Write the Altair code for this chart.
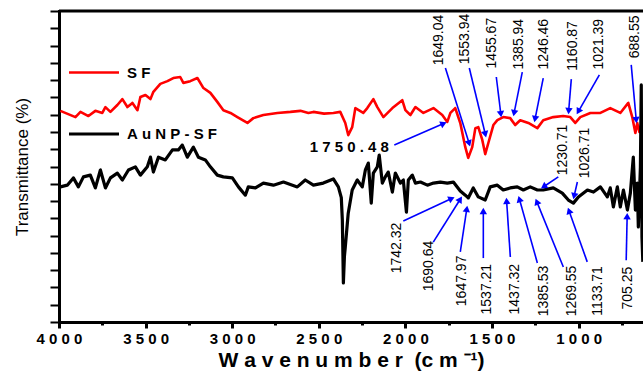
import math
import altair as alt
import pandas as pd

# ---------------- data ----------------
sf_wn = [3992, 3905, 3876, 3830, 3790, 3750, 3732, 3703, 3663, 3634, 3605, 3576, 3547, 3530,
         3501, 3472, 3455, 3415, 3374, 3340, 3300, 3282, 3242, 3201, 3166, 3126, 3086, 3051,
         3010, 2970, 2912, 2878, 2820, 2739, 2664, 2606, 2560, 2531, 2470, 2416, 2376, 2347,
         2330, 2307, 2289, 2243, 2220, 2185, 2162, 2127, 2075, 2018, 2000, 1971, 1942, 1896,
         1838, 1787, 1758, 1740, 1712, 1683, 1654, 1637, 1614, 1596, 1579, 1556, 1539, 1521,
         1492, 1469, 1435, 1395, 1366, 1337, 1290, 1238, 1204, 1146, 1089, 1048, 1019, 990,
         932, 874, 817, 759, 713, 690, 672, 661, 649, 632]
sf_t = [6.11, 5.93, 6.08, 5.96, 6.11, 6.05, 6.22, 6.08, 6.28, 6.45, 6.22, 6.34, 6.13, 6.51,
        6.57, 6.45, 6.66, 6.89, 6.97, 7.06, 7.09, 6.92, 6.97, 7.06, 6.77, 6.63, 6.37, 6.13,
        6.05, 5.93, 5.76, 5.90, 5.99, 6.05, 6.08, 6.11, 6.05, 6.08, 6.03, 6.05, 6.08, 5.76,
        5.41, 5.64, 6.19, 6.05, 6.19, 6.45, 6.22, 5.93, 6.19, 6.42, 6.13, 5.99, 6.22, 6.05,
        6.19, 5.99, 5.79, 6.05, 6.19, 5.76, 5.06, 4.75, 5.06, 5.61, 5.64, 5.27, 4.86, 5.18,
        5.70, 5.84, 5.93, 5.90, 5.70, 5.84, 5.76, 5.61, 5.84, 5.93, 5.96, 5.93, 5.76, 5.93,
        6.05, 6.05, 6.19, 6.05, 6.34, 5.93, 5.47, 5.76, 5.50, 5.84]

au_wn = [3992, 3952, 3917, 3888, 3859, 3819, 3790, 3761, 3732, 3703, 3663, 3634, 3599, 3559,
         3530, 3490, 3472, 3455, 3426, 3386, 3345, 3311, 3288, 3259, 3224, 3195, 3155, 3126,
         3086, 3051, 2999, 2964, 2924, 2907, 2866, 2820, 2762, 2704, 2624, 2578, 2531, 2474,
         2416, 2387, 2370, 2364, 2358, 2352, 2347, 2330, 2307, 2278, 2249, 2231, 2214, 2197,
         2185, 2162, 2151, 2133, 2116, 2099, 2075, 2058, 2029, 2012, 1994, 1983, 1960, 1942,
         1913, 1873, 1838, 1798, 1758, 1723, 1683, 1654, 1637, 1608, 1579, 1539, 1510, 1469,
         1435, 1395, 1354, 1319, 1279, 1238, 1204, 1146, 1094, 1059, 1030, 1001, 949, 914,
         874, 834, 817, 799, 776, 759, 741, 718, 701, 684, 672, 661, 655, 643, 638, 634, 629]
au_t = [3.91, 3.96, 4.17, 3.91, 4.20, 4.25, 3.88, 4.40, 3.88, 4.17, 4.31, 4.11, 4.40, 4.49,
        4.25, 4.49, 4.77, 4.34, 4.77, 4.69, 4.98, 4.98, 5.12, 4.77, 5.06, 4.77, 4.69, 4.49,
        4.25, 4.20, 4.17, 3.91, 3.67, 3.91, 3.88, 4.02, 3.96, 4.05, 3.91, 4.11, 3.96, 4.02,
        4.14, 3.91, 3.60, 2.95, 1.13, 1.90, 2.17, 3.15, 3.82, 4.11, 3.91, 4.40, 4.60, 3.44,
        4.31, 4.49, 4.83, 4.02, 4.20, 4.34, 3.76, 4.31, 4.02, 4.11, 3.18, 4.11, 4.25, 4.02,
        4.05, 3.96, 4.02, 4.05, 4.02, 4.05, 3.79, 3.67, 3.59, 3.88, 3.62, 3.53, 3.91, 3.96,
        3.82, 3.88, 3.91, 3.82, 3.91, 3.82, 3.82, 3.88, 3.73, 3.53, 3.44, 3.62, 3.82, 3.76,
        3.91, 3.62, 3.88, 3.33, 3.91, 3.33, 3.82, 3.24, 3.73, 4.77, 3.24, 4.02, 2.75, 4.48,
        6.86, 2.46, 1.74]

# annotations: label, label position, arrow start, arrow tip (wavenumber, transmittance)
ann_label = ["1649.04", "1553.94", "1455.67", "1385.94", "1246.46", "1160.87", "1021.39", "688.55",
             "1742.32", "1690.64", "1647.97", "1537.21", "1437.32", "1385.53", "1269.55",
             "1133.71", "705.25", "1230.71", "1026.71"]
ann_lx = [1804, 1654, 1498, 1342, 1198, 1031, 880, 673,
          2047, 1862, 1671, 1527, 1365, 1198, 1036, 886, 713, 1088, 961]
ann_ly = [8.16, 8.19, 8.07, 8.04, 8.04, 7.99, 8.04, 8.25,
          2.14, 1.62, 1.19, 0.95, 0.95, 0.90, 0.90, 0.90, 0.98, 4.98, 4.89]
ann_sx = [1769, 1631, 1475, 1325, 1204, 1042, 880, 696,
          2012, 1839, 1683, 1550, 1394, 1238, 1088, 950, 725, 1117, 1007]
ann_sy = [7.35, 7.35, 7.09, 7.23, 7.06, 7.03, 7.15, 7.44,
          2.92, 2.31, 2.03, 1.85, 1.88, 1.71, 1.59, 1.74, 1.79, 4.20, 4.05]
ann_tx = [1625, 1533, 1446, 1377, 1256, 1059, 1013, 665,
          1712, 1671, 1642, 1550, 1417, 1348, 1250, 1063, 719, 1221, 1031]
ann_ty = [5.06, 5.32, 5.90, 5.93, 5.76, 5.99, 5.99, 5.73,
          3.62, 3.65, 3.39, 3.33, 3.62, 3.67, 3.59, 3.33, 3.18, 3.85, 3.53]

# horizontal annotation
h_label = ["1\u00a07\u00a05\u00a00\u00a0.\u00a04\u00a08"]
h_lx, h_ly = [2324], [5.06]
h_sx, h_sy = [2064], [5.12]
h_tx, h_ty = [1758], [5.79]

series_names = ["SF", "AuNP-SF"]
x_ticks = [4000, 3750, 3500, 3250, 3000, 2750, 2500, 2250, 2000, 1750, 1500, 1250, 1000, 750]
y_ticks = [i * 0.5 for i in range(19)]
x_title = "\u00a0".join("Wavenumber") + "\u00a0\u00a0(c\u00a0m\u00a0\u207b\u00b9)"

# ---------------- layout ----------------
W, H = 584, 311
XMAX, XMIN = 4000, 628
YMIN, YMAX = 0, 9
pxw = W / (XMAX - XMIN)
pxv = H / (YMAX - YMIN)
FONT = "Liberation Sans"
BLUE = "#0000ff"

lines = pd.concat([
    pd.DataFrame({"wn": sf_wn, "t": sf_t, "series": "SF"}),
    pd.DataFrame({"wn": au_wn, "t": au_t, "series": "AuNP-SF"}),
])

arrows = pd.DataFrame({
    "sx": ann_sx + h_sx, "sy": ann_sy + h_sy,
    "tx": ann_tx + h_tx, "ty": ann_ty + h_ty,
})
angs, hx, hy = [], [], []
for _, r in arrows.iterrows():
    dx = -(r.tx - r.sx) * pxw
    dy = -(r.ty - r.sy) * pxv
    L = math.hypot(dx, dy)
    ux, uy = dx / L, dy / L
    angs.append(math.degrees(math.atan2(dx, -dy)) % 360)
    hx.append(r.tx + 4 * ux / pxw)
    hy.append(r.ty + 4 * uy / pxv)
arrows["ang"] = angs
arrows["hx"] = hx
arrows["hy"] = hy

vlabels = pd.DataFrame({"label": ann_label, "x": ann_lx, "y": ann_ly})
hlabels = pd.DataFrame({"label": h_label, "x": h_lx, "y": h_ly})

xscale = alt.Scale(domain=[XMIN, XMAX], reverse=True, nice=False, zero=False)
yscale = alt.Scale(domain=[YMIN, YMAX], nice=False, zero=False)

xaxis = alt.Axis(
    title=x_title,
    values=x_ticks, format="d",
    labelExpr="datum.value % 500 === 0 ? join(split(datum.label, ''), '\u00a0') : ''",
    labelFont=FONT, labelFontSize=15, labelFontWeight="bold", labelColor="black",
    labelOverlap=False, labelFlush=False, labelBound=False, labelPadding=3,
    tickSize={"condition": {"test": "datum.value % 500 === 0", "value": 6}, "value": 3},
    tickWidth=3, tickColor="black",
    domainColor="black", domainWidth=3, grid=False,
    titleFont=FONT, titleFontSize=21, titleFontWeight="bold", titleColor="black",
    titlePadding=3,
)
yaxis = alt.Axis(
    title="Transmittance (%)", values=y_ticks, labels=False,
    tickSize=9, tickWidth=2, tickColor="black",
    domainColor="black", domainWidth=3, grid=False,
    titleFont=FONT, titleFontSize=17, titleFontWeight="normal", titleColor="black",
    titlePadding=18,
)

base_line = alt.Chart(lines).mark_line(strokeJoin="round").encode(
    x=alt.X("wn:Q", scale=xscale, axis=xaxis),
    y=alt.Y("t:Q", scale=yscale, axis=yaxis),
    color=alt.Color("series:N",
                    scale=alt.Scale(domain=series_names, range=["#ff0000", "#000000"]),
                    sort=series_names,
                    legend=alt.Legend(orient="none", legendX=8, legendY=35, title=None,
                                      symbolType="stroke", symbolSize=2500,
                                      symbolStrokeWidth=3,
                                      labelFont=FONT, labelFontSize=15,
                                      labelFontWeight="bold", labelColor="black",
                                      labelExpr="join(split(datum.label, ''), '\u00a0')",
                                      labelOffset=6, rowPadding=26, padding=0)),
    strokeWidth=alt.StrokeWidth("series:N",
                                scale=alt.Scale(domain=series_names, range=[2.6, 3.2]),
                                legend=None),
    order=alt.Order("wn:Q"),
)

top_frame = alt.Chart(pd.DataFrame({"a": [0]})).mark_rule(color="black", strokeWidth=3).encode(
    x=alt.datum(XMAX, scale=xscale, axis=xaxis), x2=alt.datum(XMIN),
    y=alt.datum(YMAX, scale=yscale, axis=yaxis)
)

arrow_lines = alt.Chart(arrows).mark_rule(color=BLUE, strokeWidth=1.6).encode(
    x=alt.X("sx:Q", scale=xscale, axis=xaxis), x2="hx:Q",
    y=alt.Y("sy:Q", scale=yscale, axis=yaxis), y2="hy:Q",
)
arrow_heads = alt.Chart(arrows).mark_point(shape="triangle-up", filled=True, color=BLUE,
                                           size=55, opacity=1).encode(
    x=alt.X("hx:Q", scale=xscale, axis=xaxis), y=alt.Y("hy:Q", scale=yscale, axis=yaxis),
    angle=alt.Angle("ang:Q", scale=None),
)

vtext = alt.Chart(vlabels).mark_text(angle=270, font=FONT, fontSize=14, color="black",
                                     align="center", baseline="middle").encode(
    x=alt.X("x:Q", scale=xscale, axis=xaxis), y=alt.Y("y:Q", scale=yscale, axis=yaxis),
    text="label:N"
)
htext = alt.Chart(hlabels).mark_text(font=FONT, fontSize=15, fontWeight="bold", color="black",
                                     align="center", baseline="middle").encode(
    x=alt.X("x:Q", scale=xscale, axis=xaxis), y=alt.Y("y:Q", scale=yscale, axis=yaxis),
    text="label:N"
)

chart = alt.layer(base_line, top_frame, arrow_lines, arrow_heads, vtext, htext).properties(
    width=W, height=H,
    autosize=alt.AutoSizeParams(type="none"),
    padding={"left": 59, "top": 11, "right": 0, "bottom": 54},
    background="white",
).configure_view(stroke=None).configure_axis(
    domainCap="square"
)

chart.save("out.html", embed_options={"renderer": "svg", "actions": False})
